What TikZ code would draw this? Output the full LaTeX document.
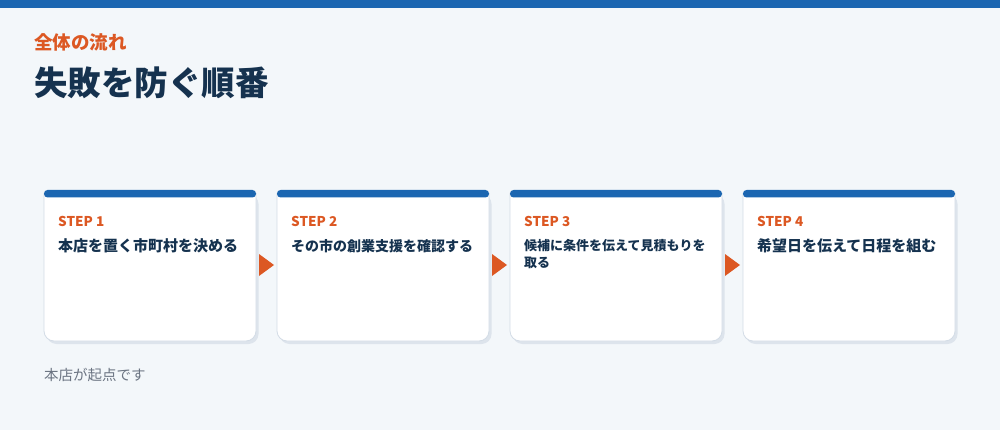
\documentclass[tikz,border=0pt]{standalone}
\usepackage{fontspec}
\setmainfont{Noto Sans CJK JP}
\newfontfamily\jpfont{Noto Sans CJK JP}
\usetikzlibrary{positioning}
\definecolor{bg}{HTML}{F3F7FA}
\definecolor{topbar}{HTML}{1B66B1}
\definecolor{accent}{HTML}{DC5823}
\definecolor{navy}{HTML}{15324F}
\definecolor{cardline}{HTML}{D3DCE6}
\definecolor{shadow}{HTML}{DDE4EC}
\definecolor{muted}{HTML}{6B7482}
\tikzset{
  x=1pt, y=-1pt,
  cardbox/.style={fill=white, draw=cardline, line width=0.8pt},
  shadowbox/.style={fill=shadow, draw=none},
  cardbar/.style={fill=topbar, draw=none, rounded corners=3.5pt},
  steplabel/.style={anchor=west, inner sep=0pt, text=accent, font=\jpfont\bfseries\fontsize{13.5}{16}\selectfont},
  bodytext/.style={anchor=north west, inner sep=0pt, text=navy, align=left},
  flowarrow/.style={fill=accent, draw=none},
}
\begin{document}
\begin{tikzpicture}
\useasboundingbox (0,0) rectangle (1000,430);
\fill[bg] (0,0) rectangle (1000,430);
\fill[topbar] (0,0) rectangle (1000,8);
\node[anchor=west, inner sep=0pt, text=accent, font=\jpfont\bfseries\fontsize{18.5}{21}\selectfont] (kicker) at (34,42) {全体の流れ};
\node[anchor=west, inner sep=0pt, text=navy, font=\jpfont\bfseries\fontsize{33.5}{38}\selectfont] (title) at (34,83) {失敗を防ぐ順番};
\foreach \i/\x in {1/44, 2/277, 3/510, 4/743} {
  \fill[shadowbox, rounded corners=10pt] (\x+2.5,194) rectangle (\x+214.5,344);
  \draw[cardbox, rounded corners=10pt] (\x,193) -- (\x,341) -- (\x+212,341) -- (\x+212,193);
  \fill[cardbar] (\x,190) rectangle (\x+212,197.5);
  \coordinate (card\i) at (\x,190);
}
\node[steplabel] (s1) at (58,221.5) {STEP 1};
\node[steplabel] (s2) at (291,221.5) {STEP 2};
\node[steplabel] (s3) at (524,221.5) {STEP 3};
\node[steplabel] (s4) at (757,221.5) {STEP 4};
\node[bodytext, font=\jpfont\bfseries\fontsize{15}{18}\selectfont] (t1) at (58,238.5) {本店を置く市町村を決める};
\node[bodytext, font=\jpfont\bfseries\fontsize{14}{18}\selectfont] (t2) at (291,239) {その市の創業支援を確認する};
\node[bodytext, font=\jpfont\bfseries\fontsize{13}{17}\selectfont] (t3) at (524,239) {候補に条件を伝えて見積もりを\\取る};
\node[bodytext, font=\jpfont\bfseries\fontsize{15}{18}\selectfont] (t4) at (757,238.5) {希望日を伝えて日程を組む};
\foreach \x in {259, 492, 725} {
  \fill[flowarrow] (\x,254) -- (\x+15,265) -- (\x,276) -- cycle;
}
\node[anchor=west, inner sep=0pt, text=muted, font=\jpfont\fontsize{14.5}{17}\selectfont] (note) at (44,375) {本店が起点です};
\end{tikzpicture}
\end{document}
